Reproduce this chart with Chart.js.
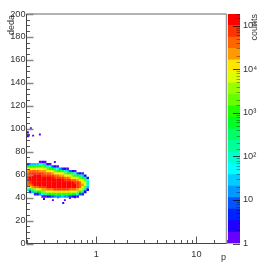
<!DOCTYPE html>
<html>
<head>
<meta charset="utf-8">
<script src="https://cdn.jsdelivr.net/npm/chart.js@4"></script>
<style>
  body { margin: 0; background: #fff; }
  canvas { position: absolute; left: 0; top: 0; }
</style>
</head>
<body>
<canvas id="heat" width="266" height="277"></canvas>
<canvas id="bar" width="266" height="277"></canvas>
<script>
// histogram bin centres
const pBins = [.2053, .2175, .2304, .2441, .2585, .2738, .2901, .3073, .3255, .3448, .3653, .3870,
    .4099, .4342, .4600, .4873, .5162, .5468, .5792, .6136, .6500, .6885, .7294, .7727, .8185];
const dedaBins = [71, 69, 67, 65, 63, 61, 59, 57, 55, 53, 51, 49, 47, 45, 43, 41, 39];

// colour band per cell, one line per p bin, 0 = empty
const cellBands = [
    [0, 3, 11, 15, 17, 18, 19, 19, 19, 18, 18, 15, 7, 0, 0, 0, 0],
    [0, 5, 12, 16, 18, 19, 19, 20, 20, 19, 18, 16, 11, 3, 0, 0, 0],
    [0, 6, 12, 16, 18, 19, 20, 20, 20, 20, 19, 17, 13, 6, 0, 0, 0],
    [0, 6, 12, 16, 18, 19, 20, 20, 20, 20, 20, 18, 14, 9, 1, 0, 0],
    [0, 6, 12, 16, 18, 19, 20, 20, 20, 20, 20, 18, 15, 11, 3, 0, 0],
    [1, 7, 12, 15, 17, 19, 20, 20, 20, 20, 20, 19, 16, 12, 5, 0, 0],
    [2, 9, 13, 15, 17, 19, 19, 20, 20, 20, 20, 19, 17, 13, 7, 1, 0],
    [1, 6, 12, 15, 17, 18, 19, 20, 20, 20, 20, 19, 17, 14, 9, 1, 0],
    [0, 2, 9, 13, 16, 18, 19, 20, 20, 20, 20, 20, 18, 15, 10, 2, 0],
    [0, 1, 7, 12, 15, 18, 19, 20, 20, 20, 20, 20, 18, 15, 11, 3, 0],
    [0, 0, 4, 11, 15, 17, 19, 20, 20, 20, 20, 20, 18, 16, 12, 4, 0],
    [0, 0, 2, 9, 13, 16, 18, 19, 20, 20, 20, 20, 19, 16, 12, 5, 0],
    [0, 0, 1, 7, 12, 16, 18, 19, 20, 20, 20, 20, 19, 16, 12, 5, 0],
    [0, 0, 0, 5, 11, 15, 17, 19, 20, 20, 20, 20, 19, 16, 12, 5, 0],
    [0, 0, 0, 3, 10, 15, 17, 19, 20, 20, 20, 20, 19, 16, 12, 6, 0],
    [0, 0, 0, 2, 8, 13, 16, 18, 19, 20, 20, 20, 19, 16, 12, 5, 0],
    [0, 0, 0, 1, 6, 12, 16, 18, 19, 20, 20, 20, 19, 16, 12, 5, 0],
    [0, 0, 0, 0, 4, 11, 15, 17, 19, 20, 20, 20, 18, 16, 12, 4, 0],
    [0, 0, 0, 0, 2, 9, 13, 16, 18, 20, 20, 20, 18, 15, 11, 3, 0],
    [0, 0, 0, 0, 1, 7, 12, 16, 18, 19, 20, 20, 18, 15, 10, 2, 0],
    [0, 0, 0, 0, 0, 4, 11, 15, 17, 19, 19, 19, 17, 14, 8, 1, 0],
    [0, 0, 0, 0, 0, 2, 9, 13, 16, 18, 18, 18, 16, 12, 4, 0, 0],
    [0, 0, 0, 0, 0, 1, 6, 12, 15, 16, 17, 16, 14, 8, 1, 0, 0],
    [0, 0, 0, 0, 0, 0, 2, 10, 13, 15, 15, 13, 9, 2, 0, 0, 0],
    [0, 0, 0, 0, 0, 0, 0, 3, 7, 9, 8, 6, 2, 0, 0, 0, 0]
];

// isolated low count cells
const strayP = [.221, .206, .206, .206, .211, .233, .272, .384, .299, .299, .367, .412, .466, .484, .543, .61];
const strayDeda = [100.4, 97, 95, 93.5, 94, 94, 95, 71, 42, 38.7, 37.8, 40.4, 35.2, 37.8, 39.6, 40.4];
const strayBands = [1, 2, 1, 2, 1, 1, 1, 1, 1, 2, 1, 1, 2, 1, 1, 1];

// colour bar, bottom to top
const bandColors = ['#6600ff', '#2200ff', '#0022ff', '#0055ff', '#0099ff', '#00ccff', '#00ffff', '#00ffcc',
    '#00ff99', '#00ff66', '#00ff22', '#22ff00', '#66ff00', '#99ff00', '#ddff00', '#ffe600',
    '#ff9900', '#ff6600', '#ff3300', '#ff0000'];
const bandEdges = [1, 1.83, 3.36, 6.17, 11.3, 20.7, 38, 69.7, 128, 234, 430, 788, 1445, 2650, 4860,
    8910, 16340, 29970, 54960, 100800, 184900];
const pLabels = { 1: '1', 10: '10' };
const countLabels = { 1: '1', 10: '10', 100: '10²', 1000: '10³', 10000: '10⁴', 100000: '10⁵' };

const FONT = { family: '"Liberation Sans"', size: 9.2 };
const INK = '#333';

const cells = [];
pBins.forEach((p, i) => dedaBins.forEach((d, j) => {
    if (cellBands[i][j] > 0) cells.push({ x: p, y: d, band: cellBands[i][j] });
}));
const strays = strayP.map((p, i) => ({ x: p, y: strayDeda[i], band: strayBands[i] }));
const cellColor = c => bandColors[c.raw.band - 1];

function isDecade(v) {
    return Math.abs(Math.log10(v) - Math.round(Math.log10(v))) < 1e-6;
}

function line(ctx, x1, y1, x2, y2, color, width) {
    ctx.strokeStyle = color;
    ctx.lineWidth = width;
    ctx.beginPath();
    ctx.moveTo(x1, y1);
    ctx.lineTo(x2, y2);
    ctx.stroke();
}

// ROOT style frame: ticks point inwards, titles sit at the axis ends
const heatFrame = {
    id: 'heatFrame',
    afterDatasetsDraw(chart) {
        const { ctx, chartArea: a, scales } = chart;
        ctx.save();
        line(ctx, a.left, a.top, a.right, a.top, '#999', 1.5);
        line(ctx, a.right, a.top, a.right, a.bottom, '#999', 1.5);
        scales.y.ticks.forEach(t => {
            const y = Math.round(scales.y.getPixelForValue(t.value)) + 0.5;
            if (t.value % 20 === 0) line(ctx, a.left, y, a.left + 7, y, '#888', 1.5);
            else line(ctx, a.left, y, a.left + 3.5, y, '#555', 1);
        });
        scales.x.ticks.forEach(t => {
            const x = Math.round(scales.x.getPixelForValue(t.value)) + 0.5;
            line(ctx, x, a.bottom, x, a.bottom - (isDecade(t.value) ? 7 : 3.5), '#555', 1);
        });
        line(ctx, a.left, a.top, a.left, a.bottom, '#444', 1);
        line(ctx, a.left, a.bottom, a.right, a.bottom, '#444', 1);

        ctx.fillStyle = INK;
        ctx.font = '9px "Liberation Sans"';
        ctx.textAlign = 'right';
        ctx.textBaseline = 'middle';
        ctx.fillText('p', 226, 258);
        ctx.translate(12, 15);
        ctx.rotate(-Math.PI / 2);
        ctx.fillText('deda', 0, 0);
        ctx.restore();
    }
};

const barFrame = {
    id: 'barFrame',
    afterDatasetsDraw(chart) {
        const { ctx, chartArea: a, scales } = chart;
        ctx.save();
        scales.y.ticks.forEach(t => {
            const y = Math.round(scales.y.getPixelForValue(t.value)) + 0.5;
            if (isDecade(t.value)) line(ctx, a.right, y, a.right - 7, y, 'rgba(0,0,0,.7)', 1);
            else line(ctx, a.right, y, a.right - 3.5, y, 'rgba(0,0,0,.35)', 1);
        });
        ctx.fillStyle = INK;
        ctx.font = '9px "Liberation Sans"';
        ctx.textAlign = 'right';
        ctx.textBaseline = 'middle';
        ctx.translate(255, 14);
        ctx.rotate(-Math.PI / 2);
        ctx.fillText('counts', 0, 0);
        ctx.restore();
    }
};

new Chart(document.getElementById('heat'), {
    type: 'scatter',
    data: {
        datasets: [
            { data: cells, pointStyle: 'rect', pointRadius: 1.85, pointBorderWidth: 0, pointBackgroundColor: cellColor },
            { data: strays, pointStyle: 'rect', pointRadius: 1.4, pointBorderWidth: 0, pointBackgroundColor: cellColor }
        ]
    },
    options: {
        responsive: false,
        animation: false,
        layout: { padding: { top: 14, right: 39.5, left: 0, bottom: 0 } },
        plugins: { legend: { display: false }, tooltip: { enabled: false } },
        scales: {
            x: {
                type: 'logarithmic',
                min: 0.2,
                max: 20,
                grid: { display: false, drawTicks: false },
                border: { display: false },
                afterFit: s => { s.height = 33.5; },
                ticks: {
                    autoSkip: false,
                    maxRotation: 0,
                    padding: 5,
                    color: INK,
                    font: FONT,
                    callback: v => pLabels[v] || ''
                }
            },
            y: {
                min: 0,
                max: 200,
                grid: { display: false, drawTicks: false },
                border: { display: false },
                afterFit: s => { s.width = 26.5; },
                ticks: {
                    stepSize: 5,
                    count: 41,
                    autoSkip: false,
                    padding: 1,
                    color: INK,
                    font: FONT,
                    callback: v => (v % 20 === 0 ? v : '')
                }
            }
        }
    },
    plugins: [heatFrame]
});

new Chart(document.getElementById('bar'), {
    type: 'bar',
    data: {
        labels: ['counts'],
        datasets: bandColors.map((color, i) => ({
            data: [[bandEdges[i], bandEdges[i + 1]]],
            backgroundColor: color,
            grouped: false,
            barPercentage: 1,
            categoryPercentage: 1
        }))
    },
    options: {
        responsive: false,
        animation: false,
        layout: { padding: { top: 14, right: 0, left: 228, bottom: 33.5 } },
        plugins: { legend: { display: false }, tooltip: { enabled: false } },
        scales: {
            x: { display: false },
            y: {
                type: 'logarithmic',
                position: 'right',
                min: 1,
                max: 184900,
                grid: { display: false, drawTicks: false },
                border: { display: false },
                afterFit: s => { s.width = 26; },
                ticks: {
                    autoSkip: false,
                    padding: 3,
                    color: INK,
                    font: FONT,
                    callback: v => countLabels[v] || ''
                }
            }
        }
    },
    plugins: [barFrame]
});
</script>
</body>
</html>
